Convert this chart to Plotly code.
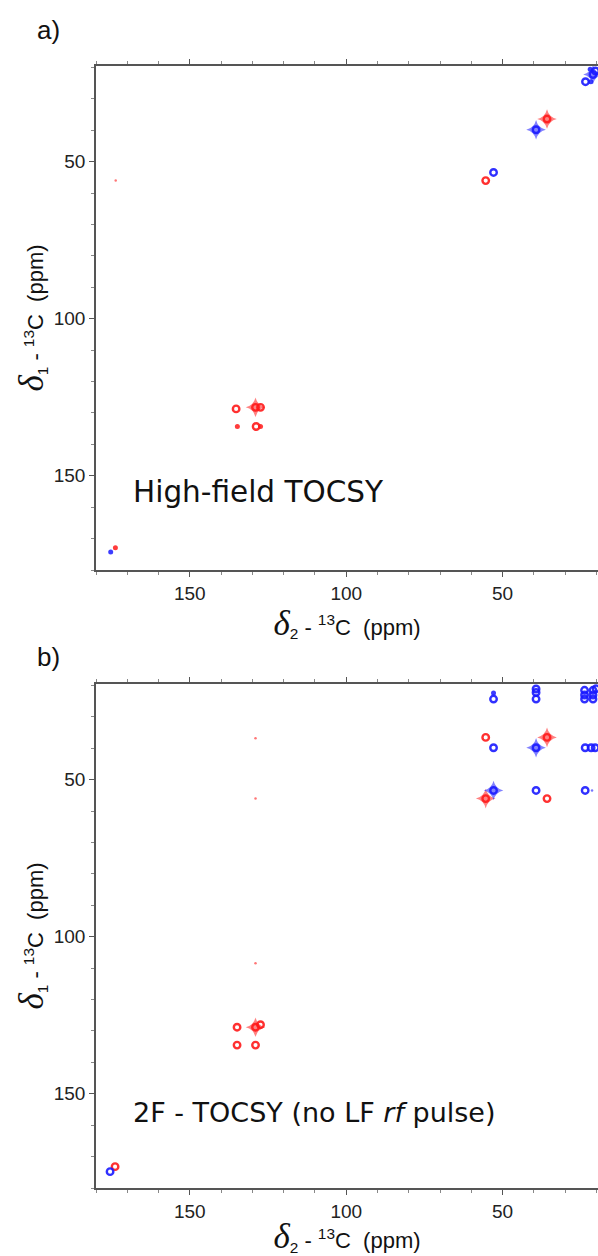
import plotly.graph_objects as go

# ---------------- data (ppm) ----------------
# Panel a) High-field TOCSY
a_red_d2 = [35.8, 55.4, 129.0, 135.2, 127.4, 134.8, 128.8, 127.4, 173.8, 173.7]
a_red_d1 = [36.4, 56.0, 128.2, 128.7, 128.2, 134.3, 134.3, 134.3, 172.9, 56.0]
a_red_int = [3, 2, 3, 2, 2, 1, 2, 1, 1, 0]

a_blue_d2 = [39.3, 52.9, 21.1, 20.3, 23.5, 22.0, 21.8, 175.3]
a_blue_d1 = [39.8, 53.4, 22.2, 21.1, 24.5, 20.5, 24.5, 174.3]
a_blue_int = [3, 2, 3, 2, 2, 1, 1, 1]

# Panel b) 2F - TOCSY (no LF rf pulse)
b_red_d2 = [55.4, 35.8, 55.4, 35.8, 129.0, 134.9, 134.9, 129.0, 127.4, 173.9, 129.0, 129.0, 129.0]
b_red_d1 = [36.5, 36.5, 56.0, 56.0, 128.8, 128.8, 134.5, 134.5, 128.0, 173.2, 36.8, 56.0, 108.4]
b_red_int = [2, 3, 3, 2, 3, 2, 2, 2, 2, 2, 0, 0, 0]

b_blue_d2 = [52.9, 52.9, 39.3, 39.3, 39.3, 23.8, 23.8, 23.8, 21.1, 21.1, 21.1, 20.1,
             52.9, 39.3, 23.6, 21.7, 20.4, 52.9, 39.3, 23.6, 21.4, 175.5]
b_blue_d1 = [22.4, 24.3, 21.1, 22.2, 24.3, 21.5, 23.0, 24.3, 21.5, 23.0, 24.3, 21.0,
             39.8, 39.8, 39.8, 39.8, 39.8, 53.4, 53.4, 53.4, 53.4, 174.8]
b_blue_int = [1, 2, 2, 2, 2, 2, 2, 2, 2, 2, 2, 2,
              2, 3, 2, 2, 2, 3, 2, 2, 0, 2]

x_ticks = [50, 100, 150]
y_ticks = [50, 100, 150]
panel_labels = ["a)", "b)"]
panel_titles = ["High-field TOCSY", "2F - TOCSY (no LF <i>rf</i> pulse)"]

RED = "#ff1a1a"
BLUE = "#1a1aff"

fig = go.Figure()


def add_peaks(xs, ys, ints, color, xa, ya):
    groups = {0: ([], []), 1: ([], []), 2: ([], []), 3: ([], [])}
    for x, y, i in zip(xs, ys, ints):
        groups[i][0].append(x)
        groups[i][1].append(y)
    gx, gy = groups[0]
    if gx:
        fig.add_trace(go.Scatter(x=gx, y=gy, mode="markers", xaxis=xa, yaxis=ya,
                                 marker=dict(symbol="circle", size=2.5, color=color, opacity=0.6,
                                             line=dict(width=0))))
    gx, gy = groups[1]
    if gx:
        fig.add_trace(go.Scatter(x=gx, y=gy, mode="markers", xaxis=xa, yaxis=ya,
                                 marker=dict(symbol="circle", size=5, color=color, opacity=0.85,
                                             line=dict(width=0))))
    gx, gy = groups[3]
    if gx:
        fig.add_trace(go.Scatter(x=gx, y=gy, mode="markers", xaxis=xa, yaxis=ya,
                                 marker=dict(symbol="star-diamond", size=14, color=color, opacity=0.55,
                                             line=dict(width=0))))
    gx = groups[2][0] + groups[3][0]
    gy = groups[2][1] + groups[3][1]
    if gx:
        fig.add_trace(go.Scatter(x=gx, y=gy, mode="markers", xaxis=xa, yaxis=ya,
                                 marker=dict(symbol="circle-open", size=6.5, color=color, opacity=0.9,
                                             line=dict(width=2.4, color=color))))


add_peaks(a_red_d2, a_red_d1, a_red_int, RED, "x", "y")
add_peaks(a_blue_d2, a_blue_d1, a_blue_int, BLUE, "x", "y")
add_peaks(b_red_d2, b_red_d1, b_red_int, RED, "x2", "y2")
add_peaks(b_blue_d2, b_blue_d1, b_blue_int, BLUE, "x2", "y2")

DELTA = '<span style="font-family:\'Liberation Serif\', serif;font-size:35px"><i>δ</i></span>'
x_title = DELTA + "<sub>2</sub> - <sup>13</sup>C\u00a0\u00a0(ppm)"
y_title = DELTA + "<sub>1</sub> - <sup>13</sup>C\u00a0\u00a0(ppm)"

tickfont = dict(family="Liberation Sans, Arial, sans-serif", size=19, color="#222")
titlefont = dict(family="Liberation Sans, Arial, sans-serif", size=22, color="#111")

common_x = dict(range=[180, 19.5], tickmode="array", tickvals=x_ticks, ticks="outside", ticklen=5,
                tickwidth=1.3, tickcolor="#555", showline=True, linecolor="#555", linewidth=1.5,
                mirror="ticks", showgrid=False, zeroline=False, tickfont=tickfont,
                minor=dict(tickmode="linear", tick0=0, dtick=10, ticks="outside", ticklen=3,
                           tickcolor="#888", tickwidth=1),
                title=dict(text=x_title, font=titlefont, standoff=4))
common_y = dict(range=[180, 19.5], tickmode="array", tickvals=y_ticks, ticks="outside", ticklen=5,
                tickwidth=1.3, tickcolor="#555", showline=True, linecolor="#555", linewidth=1.5,
                mirror=False, showgrid=False, zeroline=False, tickfont=tickfont,
                minor=dict(tickmode="linear", tick0=0, dtick=10, ticks="outside", ticklen=3,
                           tickcolor="#888", tickwidth=1),
                title=dict(text=y_title, font=titlefont, standoff=4))

H_TOTAL = 1256
T, B = 66, 68
plot_h = H_TOTAL - T - B
dom_a = [1 - 504 / plot_h, 1]
dom_b = [0, 504 / plot_h]

fig.update_layout(
    width=598, height=1256,
    margin=dict(l=96, r=0, t=T, b=B),
    paper_bgcolor="white", plot_bgcolor="white",
    showlegend=False, hovermode=False,
    xaxis=dict(common_x, anchor="y", domain=[0, 1]),
    yaxis=dict(common_y, anchor="x", domain=dom_a),
    xaxis2=dict(common_x, anchor="y2", domain=[0, 1]),
    yaxis2=dict(common_y, anchor="x2", domain=dom_b),
)


def py(pix):
    return (H_TOTAL - B - pix) / plot_h


def px(pix):
    return (pix - 96) / (598 - 96)


annots = []
for lab, ypix in zip(panel_labels, [30, 657]):
    annots.append(dict(text=lab, xref="paper", yref="paper", x=px(35), y=py(ypix),
                       xanchor="left", yanchor="middle", showarrow=False,
                       font=dict(family="Liberation Sans, Arial, sans-serif", size=26, color="#111")))
for t, ypix, fs in zip(panel_titles, [492, 1112], [29.5, 27]):
    annots.append(dict(text=t, xref="paper", yref="paper", x=px(131), y=py(ypix),
                       xanchor="left", yanchor="middle", showarrow=False,
                       font=dict(family="DejaVu Sans, sans-serif", size=fs, color="#111")))
fig.update_layout(annotations=annots)

fig.write_html("out.html", config={"displayModeBar": False},
               post_script="document.body.style.margin='0';document.body.style.overflow='hidden';")
